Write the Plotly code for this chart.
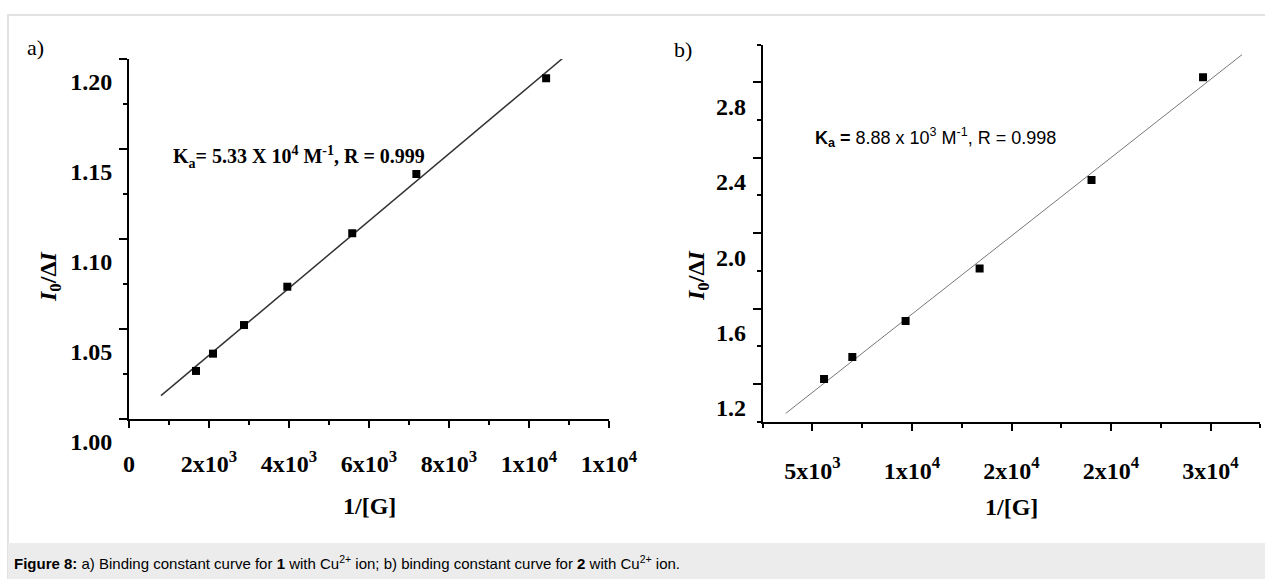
import numpy as np
import plotly.graph_objects as go

W, H = 1265, 579

# ---------------- data ----------------
# panel a
a_x = [1675, 2100, 2875, 3958, 5581, 7184, 10428]
a_y = [1.0267, 1.0363, 1.0522, 1.0735, 1.1032, 1.1361, 1.1893]
a_fit_extent = [800, 10850]
a_xticks = [0, 2000, 4000, 6000, 8000, 10000, 12000]
a_xticktext = ["0", "2x10<sup>3</sup>", "4x10<sup>3</sup>", "6x10<sup>3</sup>",
               "8x10<sup>3</sup>", "1x10<sup>4</sup>", "1x10<sup>4</sup>"]
a_yticks = [1.00, 1.05, 1.10, 1.15, 1.20]
a_yticktext = ["1.00", "1.05", "1.10", "1.15", "1.20"]

# panel b
b_x = [5582, 7003, 9679, 13398, 19021, 24623]
b_y = [1.2265, 1.343, 1.534, 1.8117, 2.282, 2.827]
b_fit_extent = [3660, 26580]
b_xticks = [5000, 10000, 15000, 20000, 25000]
b_xticktext = ["5x10<sup>3</sup>", "1x10<sup>4</sup>", "2x10<sup>4</sup>",
               "2x10<sup>4</sup>", "3x10<sup>4</sup>"]
b_yticks = [1.2, 1.6, 2.0, 2.4, 2.8]
b_yticktext = ["1.2", "1.6", "2.0", "2.4", "2.8"]

SERIF = "Liberation Serif, Times New Roman, serif"
SANS = "Liberation Sans, Arial, sans-serif"


def px_x(p):
    return p / W


def px_y(p):
    return 1 - p / H


fig = go.Figure()

# fits from data
a_coef = np.polyfit(a_x, a_y, 1)
b_coef = np.polyfit(b_x, b_y, 1)
a_fx = np.array(a_fit_extent, dtype=float)
b_fx = np.array(b_fit_extent, dtype=float)

fig.add_trace(go.Scatter(x=a_fx, y=np.polyval(a_coef, a_fx), mode="lines",
                         line=dict(color="#333333", width=1.5),
                         xaxis="x", yaxis="y", showlegend=False, hoverinfo="skip"))
fig.add_trace(go.Scatter(x=a_x, y=a_y, mode="markers",
                         marker=dict(symbol="square", size=8, color="black"),
                         xaxis="x", yaxis="y", showlegend=False))
fig.add_trace(go.Scatter(x=b_fx, y=np.polyval(b_coef, b_fx), mode="lines",
                         line=dict(color="#777777", width=1),
                         xaxis="x2", yaxis="y2", showlegend=False, hoverinfo="skip"))
fig.add_trace(go.Scatter(x=b_x, y=b_y, mode="markers",
                         marker=dict(symbol="square", size=8, color="black"),
                         xaxis="x2", yaxis="y2", showlegend=False))

tickfont = dict(family=SERIF, size=24, color="black", weight="bold")

common = dict(showgrid=False, zeroline=False, showline=True, linecolor="black",
              linewidth=2, ticks="outside", tickcolor="black", tickwidth=2,
              automargin=False)

fig.update_layout(
    width=W, height=H,
    margin=dict(l=0, r=0, t=0, b=0, pad=0, autoexpand=False),
    showlegend=False,
    paper_bgcolor="white", plot_bgcolor="white",
    xaxis=dict(domain=[px_x(129), px_x(609)], range=[0, 12000], anchor="y",
               tickmode="array", tickvals=a_xticks, ticktext=a_xticktext,
               ticklen=7, ticklabelstandoff=15, tickfont=tickfont,
               minor=dict(ticks="outside", tickmode="array",
                          tickvals=[1000, 3000, 5000, 7000, 9000, 11000],
                          ticklen=4, tickwidth=2, tickcolor="black"),
               **common),
    yaxis=dict(domain=[px_y(419), px_y(59)], range=[1.0, 1.2], anchor="x",
               tickmode="array", tickvals=a_yticks, ticktext=a_yticktext,
               ticklen=8, ticklabelshift=23, ticklabelstandoff=2, tickfont=tickfont,
               minor=dict(ticks="outside", tickmode="array",
                          tickvals=[1.025, 1.075, 1.125, 1.175],
                          ticklen=4, tickwidth=2, tickcolor="black"),
               **common),
    xaxis2=dict(domain=[px_x(762.7), px_x(1260.3)], range=[2500, 27500], anchor="y2",
                tickmode="array", tickvals=b_xticks, ticktext=b_xticktext,
                ticklen=7, ticklabelstandoff=19, tickfont=tickfont,
                minor=dict(ticks="outside", tickmode="array",
                           tickvals=[2500, 7500, 12500, 17500, 22500, 27500],
                           ticklen=4, tickwidth=2, tickcolor="black"),
                **common),
    yaxis2=dict(domain=[px_y(421.7), px_y(44.5)], range=[1.0, 3.0], anchor="x2",
                tickmode="array", tickvals=b_yticks, ticktext=b_yticktext,
                ticklen=8, ticklabelshift=24, ticklabelstandoff=2, tickfont=tickfont,
                minor=dict(ticks="outside", tickmode="array",
                           tickvals=[1.0, 1.4, 1.8, 2.2, 2.6, 3.0],
                           ticklen=4, tickwidth=2, tickcolor="black"),
                **common),
)

shapes = [
    # outer frame
    dict(type="rect", xref="paper", yref="paper",
         x0=px_x(8), x1=px_x(1275), y0=px_y(590), y1=px_y(15),
         line=dict(color="#e2e2e2", width=2), fillcolor="rgba(0,0,0,0)", layer="below"),
    # caption band
    dict(type="rect", xref="paper", yref="paper",
         x0=px_x(8), x1=px_x(1275), y0=px_y(590), y1=px_y(543),
         line=dict(width=0), fillcolor="#ececec", layer="below"),
]
fig.update_layout(shapes=shapes)

ann = []
title_font = dict(family=SERIF, size=24, color="black", weight="bold")
ann.append(dict(text="1/[G]", x=px_x(369), y=px_y(506), xref="paper", yref="paper",
                showarrow=False, font=title_font, xanchor="center", yanchor="middle"))
ann.append(dict(text="1/[G]", x=px_x(1011), y=px_y(507), xref="paper", yref="paper",
                showarrow=False, font=title_font, xanchor="center", yanchor="middle"))
ytitle = "<i>I</i><sub>0</sub>/Δ<i>I</i>"
ann.append(dict(text=ytitle, x=px_x(50), y=px_y(277), xref="paper", yref="paper",
                showarrow=False, font=title_font, textangle=-90,
                xanchor="center", yanchor="middle"))
ann.append(dict(text=ytitle, x=px_x(698), y=px_y(276), xref="paper", yref="paper",
                showarrow=False, font=title_font, textangle=-90,
                xanchor="center", yanchor="middle"))
ann.append(dict(text="a)", x=px_x(25), y=px_y(47.5), xref="paper", yref="paper",
                showarrow=False, font=dict(family=SERIF, size=22, color="black"),
                xanchor="left", yanchor="middle"))
ann.append(dict(text="b)", x=px_x(672), y=px_y(49), xref="paper", yref="paper",
                showarrow=False, font=dict(family=SERIF, size=22, color="black"),
                xanchor="left", yanchor="middle"))
ann.append(dict(text="K<sub>a</sub>= 5.33 X 10<sup>4</sup> M<sup>-1</sup>, R = 0.999",
                x=px_x(171), y=px_y(157), xref="paper", yref="paper",
                showarrow=False, font=dict(family=SERIF, size=20, color="black", weight="bold"),
                xanchor="left", yanchor="middle"))
ann.append(dict(text="<b>K<sub>a</sub> =</b> 8.88 x 10<sup>3</sup> M<sup>-1</sup>, R = 0.998",
                x=px_x(813), y=px_y(138), xref="paper", yref="paper",
                showarrow=False, font=dict(family=SANS, size=18, color="black"),
                xanchor="left", yanchor="middle"))
ann.append(dict(text="<b>Figure 8:</b> a) Binding constant curve for <b>1</b> with Cu<sup>2+</sup> ion; "
                     "b) binding constant curve for <b>2</b> with Cu<sup>2+</sup> ion.",
                x=px_x(12), y=px_y(562), xref="paper", yref="paper",
                showarrow=False, font=dict(family=SANS, size=15, color="black"),
                xanchor="left", yanchor="middle"))
fig.update_layout(annotations=ann)

fig.write_html("out.html")
